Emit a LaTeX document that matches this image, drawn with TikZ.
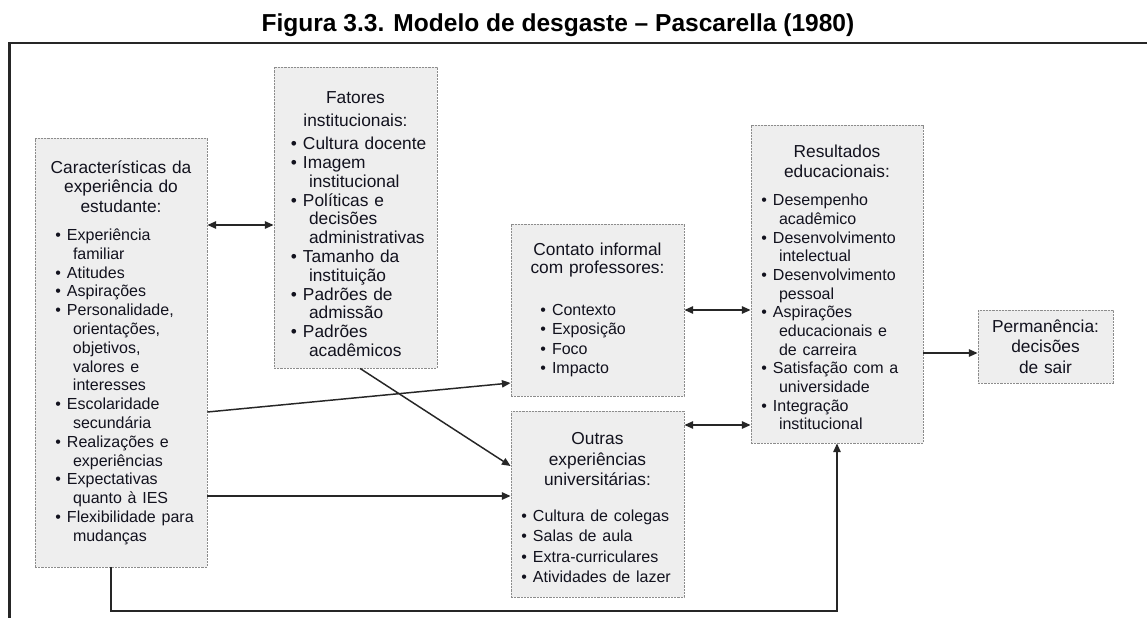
\documentclass[tikz,border=0pt]{standalone}
\usepackage{fontspec}
\setmainfont{Liberation Sans}
\usetikzlibrary{arrows.meta}
\definecolor{txt}{RGB}{18,18,30}
\definecolor{boxfill}{RGB}{238,238,238}
\definecolor{boxline}{RGB}{140,140,140}
\newcommand\ttl[2]{{\centering\fontsize{13}{#1}\selectfont #2\par}}
\newcommand\itms[4]{{\raggedright\leftskip=#1\fontsize{#2}{#3}\selectfont #4\par}}
\newcommand\bl{\leavevmode\llap{\textbullet\hspace{4.5pt}}}
\newcommand\ct{\hspace*{4.5pt}}
\tikzset{
  box/.style={draw=boxline, fill=boxfill, line width=0.6pt,
    dash pattern=on 1.6pt off 0.8pt, rectangle, inner sep=0pt,
    text=txt, font=\fontsize{13}{14.6}\selectfont},
  arr/.style={draw=black!85, line width=1.1pt,
    -{Triangle[length=6.5pt,width=5.5pt]}},
  arrr/.style={draw=black!85, line width=1.1pt,
    {Triangle[length=6.5pt,width=5.5pt]}-{Triangle[length=6.5pt,width=5.5pt]}},
  frame/.style={draw=black!85, line width=1.7pt}
}
\begin{document}
\begin{tikzpicture}[x=0.75pt,y=-0.75pt]
\useasboundingbox (0,0) rectangle (1147,618);
\fill[white] (0,0) rectangle (1147,618);

\node[anchor=base, font=\bfseries\fontsize{18.4}{22}\selectfont] (title) at (558,31)
  {Figura 3.3. Modelo de desgaste – Pascarella (1980)};
\draw[frame] (1147,43) -- (9.5,43) -- (9.5,618);

% Box A
\node[box, minimum width=129pt, minimum height=321.75pt, text width=129pt] (A) at (121,352.5) {%
\ttl{14.7pt}{Características da\\experiência do\\estudante:}\vspace{7pt}%
\itms{24pt}{12}{14.1pt}{\bl Experiência\\\ct familiar\\
\bl Atitudes\\
\bl Aspirações\\
\bl Personalidade,\\\ct orientações,\\\ct objetivos,\\\ct valores e\\\ct interesses\\
\bl Escolaridade\\\ct secundária\\
\bl Realizações e\\\ct experiências\\
\bl Expectativas\\\ct quanto à IES\\
\bl Flexibilidade para\\\ct mudanças}};

% Box B
\node[box, minimum width=122.25pt, minimum height=225.75pt, text width=122.25pt] (B) at (355.5,217.5) {%
\ttl{17.5pt}{Fatores\\institucionais:}\vspace{3.1pt}%
\itms{21.75pt}{13}{14.1pt}{\bl Cultura docente\\
\bl Imagem\\\ct institucional\\
\bl Políticas e\\\ct decisões\\\ct administrativas\\
\bl Tamanho da\\\ct instituição\\
\bl Padrões de\\\ct admissão\\
\bl Padrões\\\ct acadêmicos}\vspace{-9.75pt}};

% Box C
\node[box, minimum width=129.75pt, minimum height=129pt, text width=129.75pt] (C) at (597.5,310) {%
\ttl{13.3pt}{Contato informal\\com professores:}\vspace{17pt}%
\itms{30.75pt}{12}{14.6pt}{\bl Contexto\\
\bl Exposição\\
\bl Foco\\
\bl Impacto}};

% Box D
\node[box, minimum width=129.75pt, minimum height=139.5pt, text width=129.75pt] (D) at (597.5,504) {%
\ttl{15.4pt}{Outras\\experiências\\universitárias:}\vspace{11.8pt}%
\itms{16.5pt}{12}{15.2pt}{\bl Cultura de colegas\\
\bl Salas de aula\\
\bl Extra-curriculares\\
\bl Atividades de lazer}\vspace{-5.25pt}};

% Box E
\node[box, minimum width=129pt, minimum height=238.5pt, text width=129pt] (E) at (837,284) {%
\ttl{15pt}{Resultados\\educacionais:}\vspace{7pt}%
\itms{16.5pt}{12}{14pt}{\bl Desempenho\\\ct acadêmico\\
\bl Desenvolvimento\\\ct intelectual\\
\bl Desenvolvimento\\\ct pessoal\\
\bl Aspirações\\\ct educacionais e\\\ct de carreira\\
\bl Satisfação com a\\\ct universidade\\
\bl Integração\\\ct institucional}\vspace{-5.25pt}};

% Box F
\node[box, minimum width=101.25pt, minimum height=54.75pt, text width=101.25pt] (F) at (1045.5,346.5) {%
\ttl{15.4pt}{Permanência:\\decisões\\de sair}};

% helper coordinates
\coordinate (yAB) at (0,225);
\coordinate (yA1) at (0,412);
\coordinate (yC1) at (0,383);
\coordinate (yAD) at (0,496);
\coordinate (xB) at (360,0);
\coordinate (yD1) at (0,466);
\coordinate (yCE) at (0,310);
\coordinate (yDE) at (0,425);
\coordinate (yEF) at (0,353);
\coordinate (fbl) at (111,611);
\coordinate (fbr) at (837,611);

\draw[arrr] (A.east |- yAB) -- (B.west |- yAB);
\draw[arr] (A.east |- yA1) -- (C.west |- yC1);
\draw[arr] (A.east |- yAD) -- (D.west |- yAD);
\draw[arr] (B.south -| xB) -- (D.west |- yD1);
\draw[arrr] (C.east |- yCE) -- (E.west |- yCE);
\draw[arrr] (D.east |- yDE) -- (E.west |- yDE);
\draw[arr] (E.east |- yEF) -- (F.west |- yEF);
\draw[arr] (A.south -| fbl) -- (fbl) -- (fbr) -- (E.south -| fbr);
\end{tikzpicture}
\end{document}
